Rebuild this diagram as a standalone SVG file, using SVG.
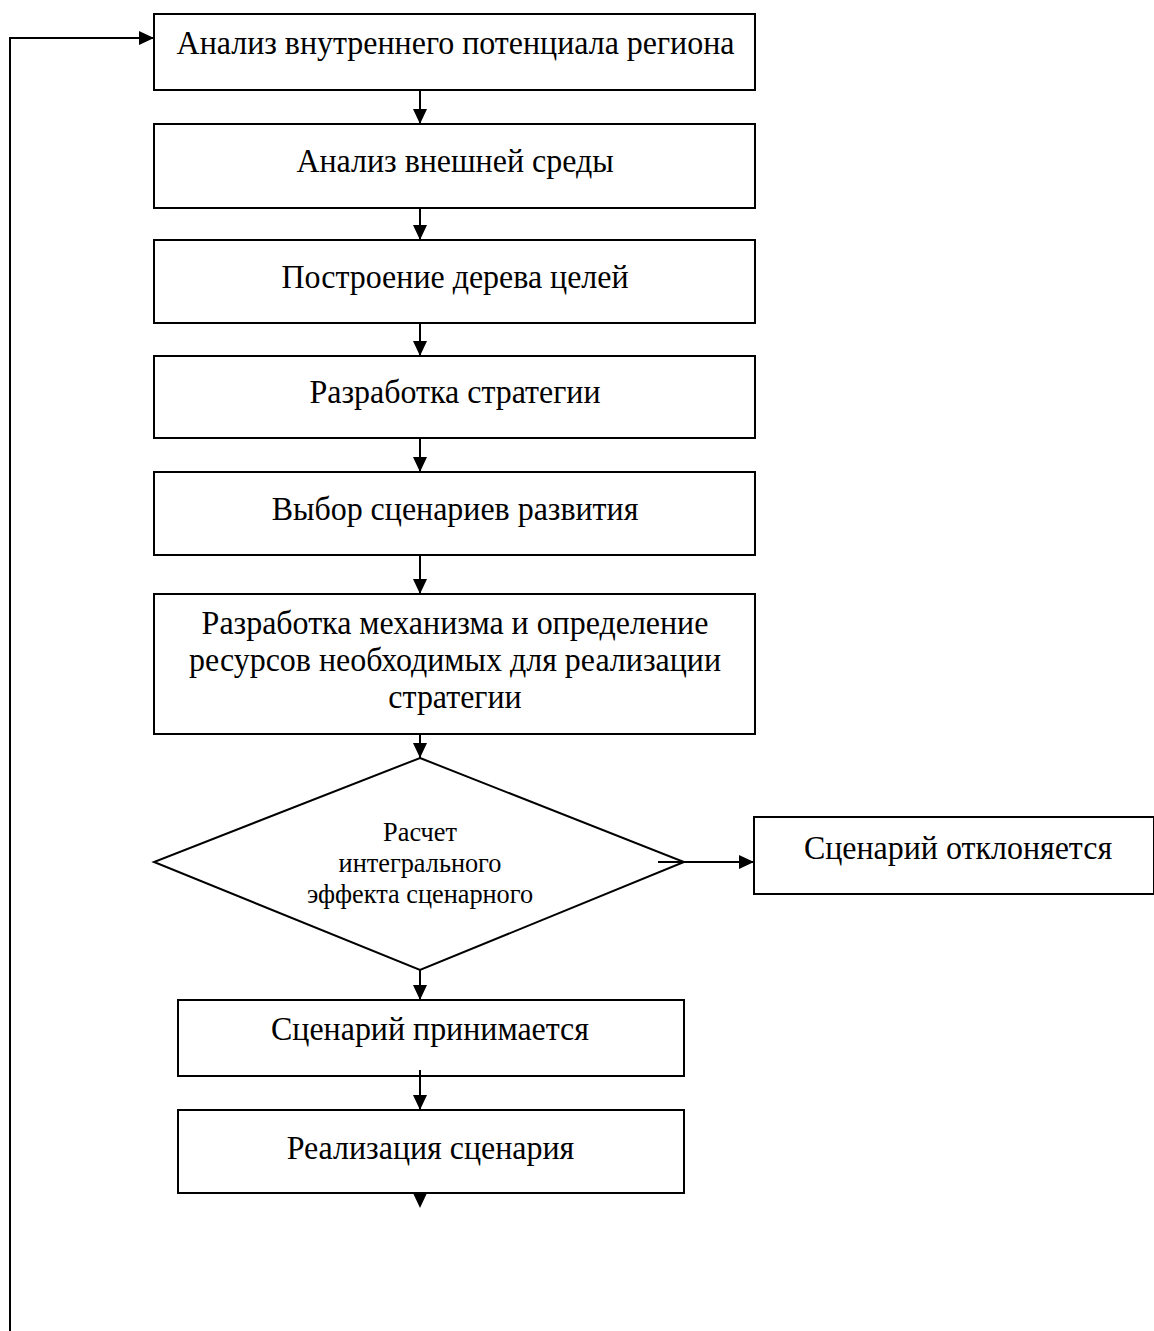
<svg xmlns="http://www.w3.org/2000/svg" width="1154" height="1331" viewBox="0 0 1154 1331">
<style>
.b{fill:#fff;stroke:#000;stroke-width:2}
.t{font-family:"Liberation Serif","Times New Roman",serif;font-size:34px;text-anchor:middle;fill:#000}
.s{font-family:"Liberation Serif","Times New Roman",serif;font-size:28px;text-anchor:middle;fill:#000}
.c{fill:none;stroke:#000;stroke-width:2}
</style>
<defs>
<marker id="a" markerWidth="15" markerHeight="14" refX="15" refY="7" orient="auto" markerUnits="userSpaceOnUse">
<path d="M0,0 L15,7 L0,14 Z" fill="#000"/>
</marker>
</defs>
<rect width="1154" height="1331" fill="#fff"/>
<g id="n1"><rect class="b" x="154" y="14" width="601" height="76"/><g transform="translate(455.5,0) scale(0.94,1)"><text class="t" x="0" y="54">Анализ внутреннего потенциала региона</text></g></g>
<g id="n2"><rect class="b" x="154" y="124" width="601" height="84"/><g transform="translate(455,0) scale(0.94,1)"><text class="t" x="0" y="172">Анализ внешней среды</text></g></g>
<g id="n3"><rect class="b" x="154" y="240" width="601" height="83"/><g transform="translate(455,0) scale(0.94,1)"><text class="t" x="0" y="288">Построение дерева целей</text></g></g>
<g id="n4"><rect class="b" x="154" y="356" width="601" height="82"/><g transform="translate(455,0) scale(0.94,1)"><text class="t" x="0" y="403">Разработка стратегии</text></g></g>
<g id="n5"><rect class="b" x="154" y="472" width="601" height="83"/><g transform="translate(455,0) scale(0.94,1)"><text class="t" x="0" y="520">Выбор сценариев развития</text></g></g>
<g id="n6"><rect class="b" x="154" y="594" width="601" height="140"/><g transform="translate(455,0) scale(0.94,1)"><text class="t" x="0" y="634">Разработка механизма и определение</text><text class="t" x="0" y="671">ресурсов необходимых для реализации</text><text class="t" x="0" y="708">стратегии</text></g></g>
<g id="n7"><path class="b" d="M420,758 L684,862 L420,970 L154,862 Z"/><g transform="translate(420,0) scale(0.94,1)"><text class="s" x="0" y="841">Расчет</text><text class="s" x="0" y="872">интегрального</text><text class="s" x="0" y="903">эффекта сценарного</text></g></g>
<g id="n8"><rect class="b" x="754" y="817" width="400" height="77"/><g transform="translate(958,0) scale(0.94,1)"><text class="t" x="0" y="859">Сценарий отклоняется</text></g></g>
<g id="n9"><rect class="b" x="178" y="1000" width="506" height="76"/><g transform="translate(430,0) scale(0.94,1)"><text class="t" x="0" y="1040">Сценарий принимается</text></g></g>
<g id="n10"><rect class="b" x="178" y="1110" width="506" height="83"/><g transform="translate(430.5,0) scale(0.94,1)"><text class="t" x="0" y="1159">Реализация сценария</text></g></g>
<g id="connectors">
<line class="c" x1="420" y1="90" x2="420" y2="124" marker-end="url(#a)"/>
<line class="c" x1="420" y1="208" x2="420" y2="240" marker-end="url(#a)"/>
<line class="c" x1="420" y1="323" x2="420" y2="356" marker-end="url(#a)"/>
<line class="c" x1="420" y1="438" x2="420" y2="472" marker-end="url(#a)"/>
<line class="c" x1="420" y1="555" x2="420" y2="594" marker-end="url(#a)"/>
<line class="c" x1="420" y1="734" x2="420" y2="758" marker-end="url(#a)"/>
<line class="c" x1="658" y1="862" x2="754" y2="862" marker-end="url(#a)"/>
<line class="c" x1="420" y1="970" x2="420" y2="1000" marker-end="url(#a)"/>
<line class="c" x1="420" y1="1070" x2="420" y2="1110" marker-end="url(#a)"/>
<path d="M413,1193 L427,1193 L420,1208 Z" fill="#000"/>
<polyline class="c" points="10,1331 10,38 154,38" marker-end="url(#a)"/>
</g>
</svg>
